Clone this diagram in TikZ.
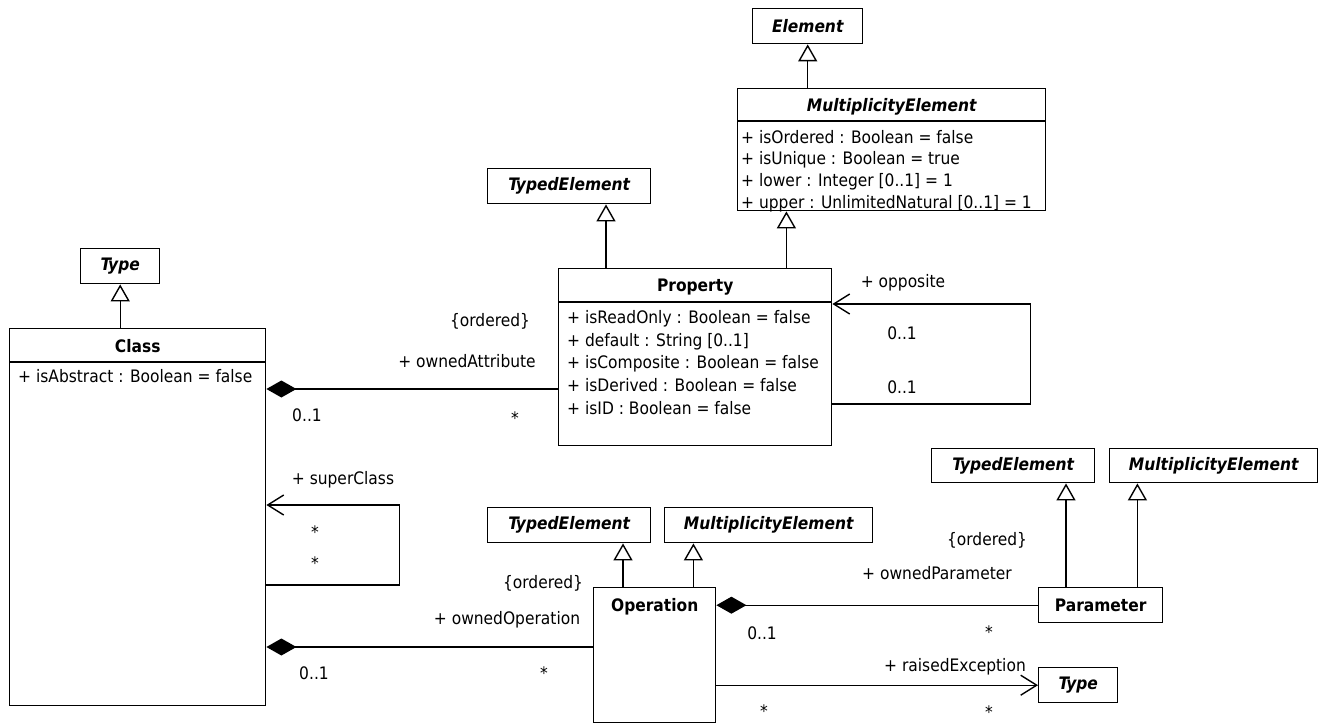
\documentclass[tikz,border=0pt]{standalone}
\usepackage{fontspec}
\setmainfont{DejaVu Sans Condensed}
\usetikzlibrary{arrows.meta, calc}

\newcommand{\umlfont}{\fontsize{17.2}{22.8}\selectfont}

\tikzset{
  umlbox/.style={draw, line width=1.4pt, fill=white, inner sep=0pt, anchor=north west},
  absname/.style={umlbox, minimum height=35pt, font=\umlfont\bfseries\itshape},
  clsname/.style={umlbox, minimum height=35pt, font=\umlfont\bfseries},
  title/.style={inner sep=0pt, font=\umlfont\bfseries},
  attrs/.style={align=left, inner sep=0pt, anchor=north west, font=\umlfont},
  endlabel/.style={inner sep=0pt, font=\umlfont},
  sepline/.style={line width=1.4pt},
  inherit/.style={-{Triangle[open, length=17pt, width=19pt, line width=1.4pt]}, line width=1.4pt},
  compose/.style={{Diamond[length=30pt, width=17pt]}-, line width=1.4pt},
  navarrow/.style={-{Straight Barb[length=16pt, width=20pt, line width=1.4pt]}, line width=1.4pt}
}

\begin{document}
\begin{tikzpicture}[x=1pt, y=-1pt]
  \useasboundingbox (0,0) rectangle (1322,725);

  % Element / MultiplicityElement
  \node[absname, minimum width=110pt] (elem) at (752,8) {Element};
  \node[umlbox, minimum width=308pt, minimum height=122pt] (multel) at (737,88) {};
  \node[title, font=\umlfont\bfseries\itshape] (multel-t) at ($(multel.north)+(0,19)$) {MultiplicityElement};
  \draw[sepline] ([yshift=-33pt]multel.north west) -- ([yshift=-33pt]multel.north east);
  \node[attrs, font=\fontsize{17.2}{21.6}\selectfont] (multel-a) at (741,130)
    {+ isOrdered : Boolean = false\\
     + isUnique : Boolean = true\\
     + lower : Integer [0..1] = 1\\
     + upper : UnlimitedNatural [0..1] = 1};
  \node[absname, minimum width=163pt] (typel) at (487,168) {TypedElement};

  % Property
  \node[umlbox, minimum width=273pt, minimum height=177pt] (prop) at (558,268) {};
  \node[title] (prop-t) at ($(prop.north)+(0,19)$) {Property};
  \draw[sepline] ([yshift=-34pt]prop.north west) -- ([yshift=-34pt]prop.north east);
  \node[attrs] (prop-a) at (567,310)
    {+ isReadOnly : Boolean = false\\
     + default : String [0..1]\\
     + isComposite : Boolean = false\\
     + isDerived : Boolean = false\\
     + isID : Boolean = false};

  % Type / Class
  \node[absname, minimum width=79pt] (type1) at (80,248) {Type};
  \node[umlbox, minimum width=256pt, minimum height=377pt] (cls) at (9,328) {};
  \node[title] (cls-t) at ($(cls.north)+(0,18)$) {Class};
  \draw[sepline] ([yshift=-34pt]cls.north west) -- ([yshift=-34pt]cls.north east);
  \node[attrs] (cls-a) at (18,369) {+ isAbstract : Boolean = false};

  % Operation and its parents
  \node[absname, minimum width=163pt] (typel2) at (487,507) {TypedElement};
  \node[absname, minimum width=208pt] (multel2) at (664,507) {MultiplicityElement};
  \node[umlbox, minimum width=122pt, minimum height=135pt] (oper) at (593,587) {};
  \node[title] (oper-t) at ($(oper.north)+(0,20)$) {Operation};

  % Parameter and its parents
  \node[absname, minimum width=163pt, minimum height=34pt] (typel3) at (931,448) {TypedElement};
  \node[absname, minimum width=208pt, minimum height=34pt] (multel3) at (1109,448) {MultiplicityElement};
  \node[clsname, minimum width=124pt] (param) at (1038,587) {Parameter};
  \node[absname, minimum width=79pt] (type2) at (1038,667) {Type};

  % generalizations
  \draw[inherit] (multel.north -| elem.south) -- (elem.south);
  \draw[inherit] ([xshift=48pt]prop.north west) -- ([xshift=48pt]prop.north west |- typel.south);
  \draw[inherit] ([xshift=-46pt]prop.north east) -- ([xshift=-46pt]prop.north east |- multel.south);
  \draw[inherit] (cls.north -| type1.south) -- (type1.south);
  \draw[inherit] ([xshift=30pt]oper.north west) -- ([xshift=30pt]oper.north west |- typel2.south);
  \draw[inherit] ([xshift=-23pt]oper.north east) -- ([xshift=-23pt]oper.north east |- multel2.south);
  \draw[inherit] ([xshift=28pt]param.north west) -- ([xshift=28pt]param.north west |- typel3.south);
  \draw[inherit] ([xshift=-26pt]param.north east) -- ([xshift=-26pt]param.north east |- multel3.south);

  % compositions
  \coordinate (ownA) at ([yshift=-121pt]prop.north west);
  \coordinate (ownO) at ([yshift=-60pt]oper.north west);
  \draw[compose] (cls.east |- ownA) -- (ownA);
  \draw[compose] (cls.east |- ownO) -- (ownO);
  \draw[compose] (oper.east |- param.west) -- (param.west);

  % navigable associations
  \draw[navarrow] ([yshift=-257pt]cls.north east) -- ++(133,0) |- ([yshift=-177pt]cls.north east);
  \draw[navarrow] ([yshift=-136pt]prop.north east) -- ++(198,0) |- ([yshift=-36pt]prop.north east);
  \draw[navarrow] (oper.east |- type2.west) -- (type2.west);

  % association end labels
  \node[endlabel] (l-ord1) at (490,321) {\{ordered\}};
  \node[endlabel] (l-oa) at (467,361) {+ ownedAttribute};
  \node[endlabel] (l-oa1) at (307,415) {0..1};
  \node[endlabel] (l-oa2) at (515,418) {*};
  \node[endlabel] (l-sc) at (343,480) {+ superClass};
  \node[endlabel] (l-sc1) at (315,532) {*};
  \node[endlabel] (l-sc2) at (315,563) {*};
  \node[endlabel] (l-oo1) at (314,673) {0..1};
  \node[endlabel] (l-opp) at (903,283) {+ opposite};
  \node[endlabel] (l-opp1) at (902,333) {0..1};
  \node[endlabel] (l-opp2) at (902,387) {0..1};
  \node[endlabel] (l-ord2) at (543,583) {\{ordered\}};
  \node[endlabel] (l-oo) at (507,620) {+ ownedOperation};
  \node[endlabel] (l-oo2) at (544,673) {*};
  \node[endlabel] (l-op1) at (762,633) {0..1};
  \node[endlabel] (l-re1) at (764,711) {*};
  \node[endlabel] (l-ord3) at (987,540) {\{ordered\}};
  \node[endlabel] (l-op) at (937,573) {+ ownedParameter};
  \node[endlabel] (l-op2) at (989,632) {*};
  \node[endlabel] (l-re) at (955,667) {+ raisedException};
  \node[endlabel] (l-re2) at (989,712) {*};
\end{tikzpicture}
\end{document}
